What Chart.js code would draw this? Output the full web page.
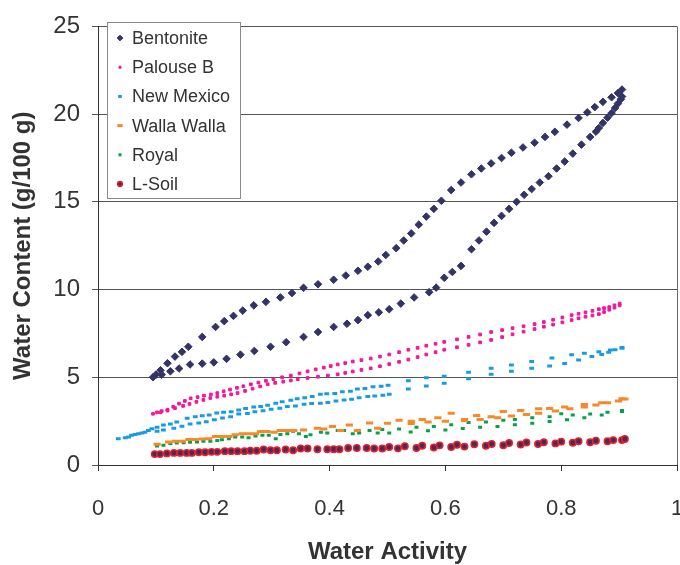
<!DOCTYPE html>
<html>
<head>
<meta charset="utf-8">
<script src="https://cdn.jsdelivr.net/npm/chart.js@4.4.1/dist/chart.umd.min.js"></script>
<style>
  html, body { margin: 0; padding: 0; background: #fff; }
  #wrap { width: 680px; height: 565px; }
</style>
</head>
<body>
<div id="wrap"><canvas id="chart" width="680" height="565"></canvas></div>
<script>
// Isotermas: actividad de agua (aw) contra contenido de agua (g/100 g)
// cada serie: rama de adsorción y luego rama de desorción
const bentoniteAw = [0.095, 0.11, 0.125, 0.14, 0.159, 0.18, 0.2, 0.222, 0.246, 0.27, 0.298, 0.325, 0.355, 0.38, 0.407, 0.43, 0.449, 0.466, 0.485, 0.503, 0.523, 0.546, 0.572, 0.584, 0.598, 0.612, 0.627, 0.645, 0.658, 0.671, 0.684, 0.697, 0.71, 0.723, 0.736, 0.749, 0.763, 0.778, 0.792, 0.806, 0.82, 0.835, 0.85, 0.86, 0.865, 0.872, 0.88, 0.887, 0.893, 0.898, 0.903, 0.905,
  0.905, 0.898, 0.887, 0.872, 0.858, 0.845, 0.83, 0.81, 0.789, 0.772, 0.754, 0.734, 0.714, 0.697, 0.679, 0.662, 0.645, 0.627, 0.61, 0.593, 0.58, 0.567, 0.554, 0.541, 0.528, 0.515, 0.497, 0.484, 0.466, 0.449, 0.428, 0.407, 0.38, 0.355, 0.335, 0.315, 0.29, 0.269, 0.25, 0.234, 0.218, 0.203, 0.18, 0.156, 0.145, 0.133, 0.12, 0.108, 0.1];
const bentoniteWc = [5.0, 5.15, 5.34, 5.5, 5.73, 5.78, 5.85, 6.05, 6.29, 6.5, 6.74, 7.0, 7.3, 7.58, 7.87, 8.05, 8.26, 8.54, 8.7, 8.88, 9.2, 9.55, 9.85, 10.11, 10.67, 11.0, 11.35, 12.3, 12.8, 13.3, 13.8, 14.2, 14.6, 15.0, 15.4, 15.73, 16.1, 16.46, 16.9, 17.3, 17.75, 18.26, 18.7, 19.0, 19.21, 19.5, 19.8, 20.06, 20.35, 20.6, 20.85, 21.0,
  21.4, 21.2, 20.96, 20.7, 20.4, 20.1, 19.78, 19.4, 18.99, 18.7, 18.37, 18.1, 17.8, 17.5, 17.19, 16.9, 16.57, 16.1, 15.67, 15.06, 14.6, 14.16, 13.7, 13.2, 12.8, 12.36, 11.97, 11.6, 11.3, 11.07, 10.8, 10.56, 10.3, 10.1, 9.8, 9.55, 9.3, 9.1, 8.8, 8.5, 8.2, 7.87, 7.3, 6.74, 6.45, 6.18, 5.8, 5.4, 5.15];

const palouseAw = [0.095, 0.108, 0.12, 0.133, 0.147, 0.158, 0.17, 0.182, 0.194, 0.206, 0.218, 0.23, 0.241, 0.254, 0.267, 0.28, 0.293, 0.306, 0.32, 0.333, 0.345, 0.362, 0.38, 0.397, 0.414, 0.427, 0.44, 0.455, 0.471, 0.487, 0.503, 0.52, 0.536, 0.552, 0.567, 0.583, 0.598, 0.62, 0.64, 0.66, 0.679, 0.698, 0.716, 0.735, 0.754, 0.77, 0.786, 0.802, 0.818, 0.83, 0.842, 0.854, 0.865, 0.874, 0.883, 0.892, 0.901,
  0.901, 0.892, 0.883, 0.874, 0.865, 0.854, 0.842, 0.83, 0.818, 0.802, 0.786, 0.77, 0.754, 0.735, 0.716, 0.698, 0.679, 0.66, 0.64, 0.62, 0.598, 0.583, 0.567, 0.552, 0.536, 0.52, 0.503, 0.487, 0.471, 0.455, 0.44, 0.427, 0.414, 0.402, 0.39, 0.376, 0.362, 0.348, 0.333, 0.318, 0.303, 0.29, 0.277, 0.264, 0.251, 0.24, 0.228, 0.217, 0.206, 0.195, 0.183, 0.172, 0.16, 0.15, 0.14, 0.13, 0.12, 0.11, 0.102];
const palouseWc = [2.92, 3.0, 3.1, 3.24, 3.37, 3.48, 3.6, 3.71, 3.82, 3.89, 3.95, 4.03, 4.1, 4.22, 4.35, 4.48, 4.6, 4.68, 4.75, 4.82, 4.89, 4.96, 5.03, 5.1, 5.17, 5.25, 5.33, 5.42, 5.51, 5.63, 5.75, 5.88, 6.01, 6.15, 6.3, 6.43, 6.57, 6.71, 6.85, 6.99, 7.13, 7.29, 7.45, 7.6, 7.75, 7.88, 8.0, 8.13, 8.26, 8.36, 8.45, 8.52, 8.6, 8.72, 8.85, 8.97, 9.1,
  9.2, 9.1, 9.0, 8.94, 8.88, 8.79, 8.7, 8.62, 8.54, 8.41, 8.28, 8.15, 8.03, 7.91, 7.8, 7.69, 7.58, 7.44, 7.3, 7.16, 7.02, 6.91, 6.8, 6.68, 6.57, 6.43, 6.3, 6.18, 6.07, 5.98, 5.9, 5.81, 5.73, 5.64, 5.55, 5.45, 5.34, 5.22, 5.1, 5.0, 4.89, 4.8, 4.7, 4.6, 4.49, 4.4, 4.3, 4.2, 4.1, 4.02, 3.95, 3.87, 3.8, 3.65, 3.5, 3.32, 3.15, 3.07, 3.0];

const mexicoAw = [0.035, 0.047, 0.053, 0.058, 0.064, 0.07, 0.076, 0.081, 0.087, 0.093,
  0.102, 0.113, 0.125, 0.136, 0.154, 0.168, 0.18, 0.192, 0.205, 0.217, 0.23, 0.243, 0.255, 0.269, 0.281, 0.293, 0.307, 0.318, 0.333, 0.344, 0.357, 0.37, 0.384, 0.395, 0.409, 0.422, 0.436, 0.448, 0.461, 0.475, 0.489, 0.501,
  0.536, 0.567, 0.598, 0.64, 0.679, 0.714, 0.749, 0.784, 0.818, 0.84, 0.865, 0.885, 0.905,
  0.102, 0.113, 0.131, 0.145, 0.159, 0.174, 0.187, 0.201, 0.215, 0.229, 0.243, 0.258, 0.271, 0.285, 0.299, 0.314, 0.327, 0.341, 0.356, 0.369, 0.384, 0.397, 0.411, 0.425, 0.438, 0.451, 0.466, 0.478, 0.492, 0.503,
  0.536, 0.567, 0.598, 0.64, 0.679, 0.714, 0.749, 0.78, 0.806, 0.83, 0.853, 0.87, 0.882, 0.893, 0.905];
const mexicoWc = [1.5, 1.56, 1.59, 1.69, 1.74, 1.78, 1.82, 1.87, 1.97, 2.06,
  2.15, 2.28, 2.34, 2.45, 2.66, 2.75, 2.81, 2.85, 2.96, 3.0, 3.03, 3.13, 3.22, 3.31, 3.33, 3.41, 3.52, 3.6, 3.69, 3.78, 3.84, 3.9, 4.03, 4.06, 4.08, 4.18, 4.21, 4.33, 4.36, 4.46, 4.49, 4.55,
  4.8, 4.97, 5.06, 5.28, 5.51, 5.7, 5.9, 6.1, 6.29, 6.37, 6.46, 6.55, 6.7,
  1.93, 2.0, 2.1, 2.21, 2.34, 2.4, 2.47, 2.58, 2.68, 2.75, 2.9, 2.94, 3.03, 3.09, 3.18, 3.24, 3.33, 3.37, 3.46, 3.5, 3.52, 3.56, 3.65, 3.71, 3.75, 3.84, 3.9, 3.93, 3.97, 4.03,
  4.33, 4.5, 4.66, 4.92, 5.17, 5.35, 5.51, 5.65, 5.79, 5.98, 6.18, 6.3, 6.42, 6.57, 6.66];

const wallaAw = [0.102, 0.122, 0.134, 0.145, 0.157, 0.168, 0.18, 0.191, 0.203, 0.214, 0.226, 0.237, 0.249, 0.26, 0.272, 0.281, 0.292, 0.304, 0.315, 0.327, 0.338, 0.355, 0.379, 0.39, 0.405, 0.419, 0.434, 0.448, 0.469, 0.483, 0.5,
  0.541, 0.57, 0.6, 0.633, 0.66, 0.69, 0.714, 0.74, 0.761, 0.79, 0.815, 0.84, 0.86, 0.88, 0.899, 0.91,
  0.905, 0.87, 0.84, 0.806, 0.78, 0.761, 0.73, 0.7, 0.679, 0.654, 0.633, 0.61, 0.587, 0.56, 0.541, 0.52];
const wallaWc = [1.18, 1.31, 1.35, 1.35, 1.46, 1.46, 1.48, 1.5, 1.63, 1.63, 1.63, 1.72, 1.78, 1.78, 1.78, 1.91, 1.91, 1.87, 1.97, 1.97, 1.97, 2.0, 2.1, 2.05, 2.19, 1.97, 2.28, 1.97, 2.4, 2.1, 2.38,
  2.36, 2.45, 2.5, 2.53, 2.6, 2.7, 2.8, 2.88, 2.95, 3.08, 3.2, 3.3, 3.42, 3.55, 3.65, 3.76,
  3.78, 3.55, 3.45, 3.3, 3.22, 3.2, 3.1, 3.05, 2.75, 2.82, 2.6, 2.95, 2.7, 2.6, 2.5, 2.55];

const royalAw = [0.102, 0.113, 0.125, 0.136, 0.148, 0.159, 0.171, 0.182, 0.194, 0.206, 0.214, 0.226, 0.237, 0.249, 0.26, 0.272, 0.284, 0.295, 0.307, 0.315, 0.327, 0.337, 0.347, 0.359, 0.367, 0.385, 0.396, 0.414, 0.425, 0.44, 0.451, 0.469, 0.483, 0.491, 0.503,
  0.54, 0.57, 0.6, 0.63, 0.66, 0.69, 0.72, 0.75, 0.78, 0.81, 0.84, 0.87, 0.905,
  0.905, 0.88, 0.85, 0.82, 0.8, 0.78, 0.75, 0.72, 0.7, 0.67, 0.64, 0.61, 0.58, 0.55, 0.52];
const royalWc = [1.09, 1.12, 1.22, 1.26, 1.27, 1.29, 1.31, 1.35, 1.35, 1.4, 1.44, 1.5, 1.59, 1.59, 1.55, 1.65, 1.69, 1.69, 1.5, 1.74, 1.78, 1.93, 1.78, 1.63, 1.72, 1.87, 1.82, 1.97, 1.97, 1.78, 1.83, 1.97, 1.83, 2.02, 1.83,
  1.88, 1.95, 2.0, 2.08, 2.15, 2.2, 2.3, 2.38, 2.48, 2.58, 2.7, 2.85, 3.05,
  3.1, 3.0, 2.9, 2.85, 2.92, 2.75, 2.7, 2.6, 2.55, 2.45, 2.42, 2.3, 2.2, 2.15, 2.05];

const lsoilAw = [0.098, 0.107, 0.119, 0.131, 0.142, 0.153, 0.162, 0.174, 0.185, 0.196, 0.206, 0.219, 0.23, 0.241, 0.253, 0.263, 0.274, 0.286, 0.298, 0.309, 0.324, 0.337, 0.35, 0.362, 0.379, 0.396, 0.407, 0.417, 0.432, 0.447, 0.464, 0.477, 0.491, 0.503,
  0.518, 0.55, 0.58, 0.61, 0.633, 0.67, 0.7, 0.73, 0.76, 0.79, 0.82, 0.85, 0.88, 0.905,
  0.91, 0.89, 0.86, 0.83, 0.8, 0.77, 0.74, 0.71, 0.68, 0.65, 0.62, 0.59, 0.56, 0.53];
const lsoilWc = [0.62, 0.62, 0.66, 0.69, 0.69, 0.69, 0.69, 0.73, 0.73, 0.75, 0.75, 0.79, 0.79, 0.79, 0.79, 0.81, 0.81, 0.88, 0.84, 0.84, 0.88, 0.84, 0.94, 0.94, 0.9, 0.9, 0.9, 0.9, 0.97, 0.97, 0.97, 0.94, 0.94, 1.03,
  0.95, 0.97, 1.0, 1.03, 1.05, 1.1, 1.13, 1.17, 1.2, 1.23, 1.27, 1.3, 1.35, 1.42,
  1.48, 1.42, 1.38, 1.35, 1.33, 1.3, 1.28, 1.25, 1.2, 1.18, 1.15, 1.12, 1.1, 1.07];

const xTicks = [0, 0.2, 0.4, 0.6, 0.8, 1];
const yTicks = [0, 5, 10, 15, 20, 25];

const FONT = '"Liberation Sans", Arial, sans-serif';
const TEXT = '#333333';

function puntos(xs, ys) {
  return xs.map((x, i) => ({ x: x, y: ys[i] }));
}

const datasets = [
  { label: 'Bentonite', data: puntos(bentoniteAw, bentoniteWc), pointStyle: 'rectRot', pointRadius: 3.8, borderWidth: 1, borderColor: '#333366', backgroundColor: '#333366' },
  { label: 'Palouse B', data: puntos(palouseAw, palouseWc), pointStyle: 'rect', pointRadius: 1.9, borderWidth: 1, borderColor: '#f0189a', backgroundColor: '#f0189a' },
  { label: 'New Mexico', data: puntos(mexicoAw, mexicoWc), pointStyle: 'line', pointRadius: 2.4, borderWidth: 3, borderColor: '#1a9be0', backgroundColor: '#1a9be0' },
  { label: 'Walla Walla', data: puntos(wallaAw, wallaWc), pointStyle: 'line', pointRadius: 3.6, borderWidth: 3, borderColor: '#f7892a', backgroundColor: '#f7892a' },
  { label: 'Royal', data: puntos(royalAw, royalWc), pointStyle: 'line', pointRadius: 2, borderWidth: 3, borderColor: '#08a04c', backgroundColor: '#08a04c' },
  { label: 'L-Soil', data: puntos(lsoilAw, lsoilWc), pointStyle: 'circle', pointRadius: 3.2, borderWidth: 1.5, borderColor: '#e4202c', backgroundColor: '#4a2a58' }
];

// dibuja un marcador con el mismo estilo de la serie (para la leyenda)
function marcador(ctx, ds, x, y, escala) {
  const r = ds.pointRadius * escala;
  ctx.save();
  ctx.fillStyle = ds.backgroundColor;
  ctx.strokeStyle = ds.borderColor;
  ctx.lineWidth = ds.borderWidth;
  ctx.beginPath();
  if (ds.pointStyle === 'rectRot') {
    ctx.moveTo(x, y - r); ctx.lineTo(x + r, y); ctx.lineTo(x, y + r); ctx.lineTo(x - r, y); ctx.closePath();
    ctx.fill(); ctx.stroke();
  } else if (ds.pointStyle === 'rect') {
    const s = r * Math.SQRT1_2;
    ctx.rect(x - s, y - s, 2 * s, 2 * s);
    ctx.fill(); ctx.stroke();
  } else if (ds.pointStyle === 'line') {
    ctx.moveTo(x - r, y); ctx.lineTo(x + r, y);
    ctx.stroke();
  } else {
    ctx.arc(x, y, r, 0, Math.PI * 2);
    ctx.fill(); ctx.stroke();
  }
  ctx.restore();
}

// borde derecho del área y leyenda dentro del gráfico
const marcoYLeyenda = {
  id: 'marcoYLeyenda',
  afterDraw(chart) {
    const { ctx, chartArea } = chart;
    ctx.save();
    ctx.strokeStyle = '#666';
    ctx.lineWidth = 1;
    const xr = Math.round(chartArea.right) + 0.5;
    ctx.beginPath();
    ctx.moveTo(xr, chartArea.top);
    ctx.lineTo(xr, chartArea.bottom);
    ctx.stroke();

    // caja de la leyenda
    ctx.fillStyle = '#fff';
    ctx.fillRect(107.5, 22.5, 133, 176);
    ctx.strokeStyle = '#8a8a8a';
    ctx.strokeRect(107.5, 22.5, 133, 176);

    ctx.font = '18px ' + FONT;
    ctx.fillStyle = TEXT;
    ctx.textBaseline = 'middle';
    chart.data.datasets.forEach((ds, i) => {
      const y = 38 + i * 29.2;
      marcador(ctx, ds, 120, y, 0.75);
      ctx.fillStyle = TEXT;
      ctx.fillText(ds.label, 132, y + 1);
    });
    ctx.restore();
  }
};

const ctx = document.getElementById('chart').getContext('2d');

const myChart = new Chart(ctx, {
  type: 'scatter',
  data: { datasets: datasets },
  options: {
    responsive: false,
    animation: false,
    events: [],
    layout: { autoPadding: false, padding: { top: 21, right: 3, bottom: 0, left: 0 } },
    plugins: {
      legend: { display: false },
      tooltip: { enabled: false }
    },
    scales: {
      x: {
        type: 'linear',
        min: 0,
        max: 1,
        afterBuildTicks: (scale) => { scale.ticks = xTicks.map(v => ({ value: v })); },
        afterFit: (scale) => {
          scale.height = 100;
          scale.paddingLeft = 0;
          scale.paddingRight = 0;
        },
        ticks: {
          color: TEXT,
          font: { family: FONT, size: 22 },
          padding: 25,
          maxRotation: 0,
          callback: (v) => String(Math.round(v * 10) / 10)
        },
        grid: { drawOnChartArea: false, color: '#333', tickLength: 6 },
        border: { color: '#333', width: 1 },
        title: {
          display: true,
          text: 'Water Activity',
          color: TEXT,
          font: { family: FONT, size: 24, weight: 'bold' },
          padding: { top: 0, bottom: -2 }
        }
      },
      y: {
        type: 'linear',
        min: 0,
        max: 25,
        afterBuildTicks: (scale) => { scale.ticks = yTicks.map(v => ({ value: v })); },
        afterFit: (scale) => { scale.width = 98; },
        ticks: {
          color: TEXT,
          font: { family: FONT, size: 24 },
          padding: 12
        },
        grid: { color: '#555', tickLength: 6 },
        border: { color: '#333', width: 1 },
        title: {
          display: true,
          text: 'Water Content (g/100 g)',
          color: TEXT,
          font: { family: FONT, size: 24, weight: 'bold' },
          padding: { top: 9, bottom: 0 }
        }
      }
    }
  },
  plugins: [marcoYLeyenda]
});
</script>
</body>
</html>
